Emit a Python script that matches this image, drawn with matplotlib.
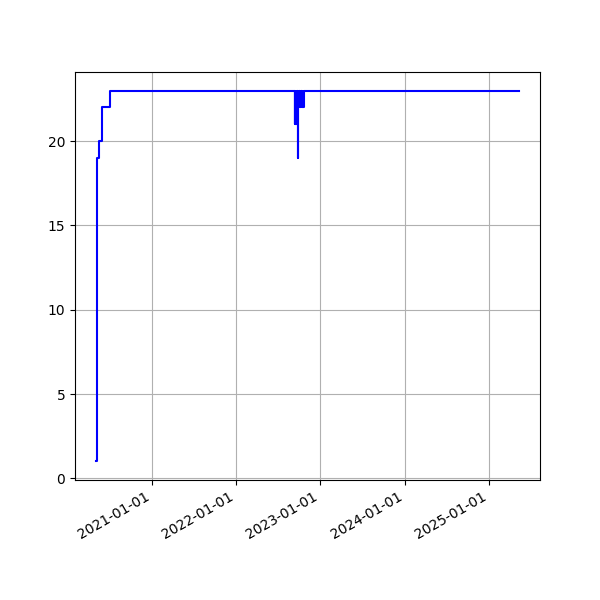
import matplotlib
matplotlib.use("Agg")
import matplotlib.pyplot as plt
import matplotlib.dates as mdates
import pandas as pd

# change points (value holds until next date)
dates = [
    "2020-05-06", "2020-05-11", "2020-05-19", "2020-06-01", "2020-07-03",
    # dip period in autumn 2022
    "2022-09-14", "2022-09-15", "2022-09-16", "2022-09-17", "2022-09-18",
    "2022-09-19", "2022-09-20", "2022-09-21", "2022-09-22", "2022-09-23",
    "2022-09-25", "2022-09-26", "2022-09-27", "2022-09-28", "2022-09-30",
    "2022-10-01", "2022-10-03", "2022-10-04", "2022-10-06", "2022-10-07",
    "2022-10-09", "2022-10-10", "2022-10-12", "2022-10-13", "2022-10-15",
    "2022-10-16", "2022-10-18", "2022-10-19", "2022-10-21", "2022-10-22",
    "2025-05-10",
]
values = [
    1, 19, 20, 22, 23,
    21, 23, 21, 23, 21,
    23, 21, 23, 22, 23,
    22, 19, 23, 22, 23,
    22, 23, 22, 23, 22,
    23, 22, 23, 22, 23,
    22, 23, 22, 23, 23,
    23,
]

x = pd.to_datetime(dates)

fig, ax = plt.subplots(figsize=(6, 6), dpi=100)
ax.plot(x, values, color="blue", drawstyle="steps-post")
ax.grid(True)
ax.xaxis.set_major_locator(mdates.YearLocator())
ax.xaxis.set_major_formatter(mdates.DateFormatter("%Y-%m-%d"))
fig.autofmt_xdate()
fig.savefig("out.png")
